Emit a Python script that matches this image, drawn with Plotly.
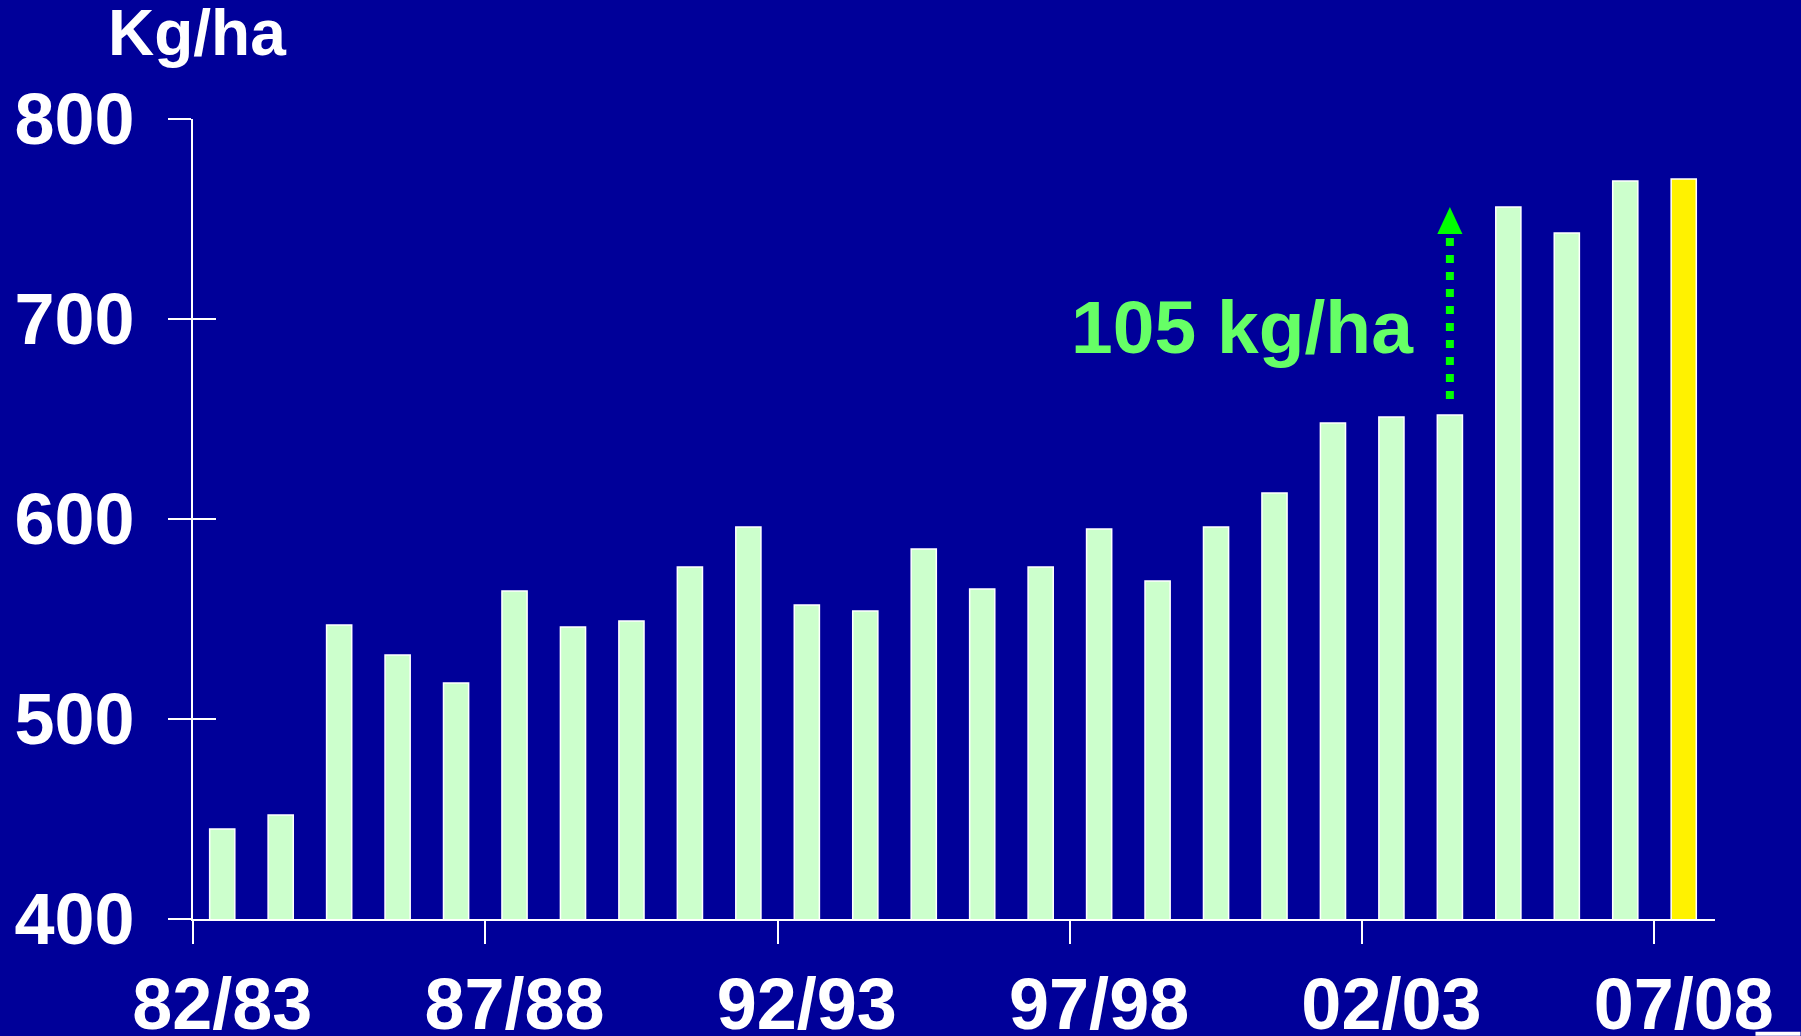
import plotly.graph_objects as go

# ---- data ----
seasons = ["82/83", "83/84", "84/85", "85/86", "86/87", "87/88", "88/89", "89/90",
           "90/91", "91/92", "92/93", "93/94", "94/95", "95/96", "96/97", "97/98",
           "98/99", "99/00", "00/01", "01/02", "02/03", "03/04", "04/05", "05/06",
           "06/07", "07/08"]
yields = [445, 452, 547, 532, 518, 564, 546, 549, 576, 596, 557, 554, 585, 565,
          576, 595, 569, 596, 613, 648, 651, 652, 756, 743, 769, 770]
label_seasons = ["82/83", "87/88", "92/93", "97/98", "02/03", "07/08"]
y_ticks = [400, 500, 600, 700, 800]
gain_text = "105 kg/ha"
unit_text = "Kg/ha"

# ---- styling ----
BG = "#000099"
BAR = "#CCFFCC"
HIGHLIGHT = "#FFF200"
WHITE = "#FFFFFF"
ARROW = "#00FF00"
TXT_GREEN = "#66FF66"
FONT = "Liberation Sans, Arial, sans-serif"

W, H = 1801, 1036
L, R, T, B = 192.5, 85.5, 119.3, 116.7
PW, PH = W - L - R, H - T - B

idx = list(range(len(seasons)))
label_idx = [seasons.index(s) for s in label_seasons]
boundaries = [i - 0.5 for i in label_idx]
x_range = [-0.5, 25.535]

colors = [BAR] * (len(yields) - 1) + [HIGHLIGHT]

fig = go.Figure()
fig.add_trace(go.Bar(
    x=idx, y=yields, width=0.43,
    marker=dict(color=colors, line=dict(color=WHITE, width=1.5)),
    hoverinfo="skip", showlegend=False,
))
# invisible trace to activate xaxis2 / yaxis2
fig.add_trace(go.Scatter(x=[0], y=[400], xaxis="x2", yaxis="y2",
                         mode="markers", marker=dict(opacity=0),
                         hoverinfo="skip", showlegend=False))

tickfont = dict(family=FONT, size=72, color=WHITE, weight="bold")

fig.update_layout(
    width=W, height=H, autosize=False,
    paper_bgcolor=BG, plot_bgcolor=BG,
    margin=dict(l=L, r=R, t=T, b=B, pad=0),
    xaxis=dict(range=x_range, tickmode="array", tickvals=label_idx,
               ticktext=label_seasons, ticks="", showgrid=False, zeroline=False,
               showline=True, linecolor=WHITE, linewidth=2,
               tickfont=tickfont, ticklabelstandoff=22, automargin=False),
    xaxis2=dict(range=x_range, overlaying="x", anchor="y", side="bottom",
                tickmode="array", tickvals=boundaries, ticks="outside",
                ticklen=24, tickwidth=2, tickcolor=WHITE, showticklabels=False,
                showgrid=False, zeroline=False, showline=False, automargin=False),
    yaxis=dict(range=[400, 800], tickmode="array", tickvals=y_ticks,
               ticks="outside", ticklen=23, tickwidth=2, tickcolor=WHITE,
               showline=True, linecolor=WHITE, linewidth=2,
               showgrid=False, zeroline=False, tickfont=tickfont,
               ticklabelstandoff=19, automargin=False),
    yaxis2=dict(range=[400, 800], overlaying="y", anchor="x", side="left",
                tickmode="array", tickvals=y_ticks, ticks="inside", ticklen=23,
                tickwidth=2, tickcolor=WHITE, showticklabels=False,
                showgrid=False, zeroline=False, showline=False, automargin=False),
)

def px_to_paper(px, py):
    return (px - L) / PW, (H - B - py) / PH

# unit label above the y axis
ux, uy = px_to_paper(196.5, 33)
fig.add_annotation(text=unit_text, xref="paper", yref="paper", x=ux, y=uy,
                   xanchor="center", yanchor="middle", showarrow=False,
                   font=dict(family=FONT, size=64, color=WHITE, weight="bold"))

# gain arrow: from bar 03/04 top up to level of 04/05
i_from = seasons.index("03/04")
i_to = seasons.index("04/05")
y_start = yields[i_from] + 8
y_tip = yields[i_to]
y_base = y_tip - 13.5
ax = i_from
fig.add_shape(type="line", x0=ax, x1=ax, y0=y_start, y1=y_base,
              line=dict(color=ARROW, width=8, dash="8px,9px"), layer="above")
hw = 0.215
fig.add_shape(type="path",
              path=f"M {ax-hw},{y_base} L {ax+hw},{y_base} L {ax},{y_tip} Z",
              fillcolor=ARROW, line=dict(width=0), layer="above")

fig.add_annotation(text=gain_text, x=20.42, y=696, xanchor="right",
                   yanchor="middle", showarrow=False,
                   font=dict(family=FONT, size=75, color=TXT_GREEN, weight="bold"))

# small white mark at the bottom-right corner of the slide
x0p, y0p = px_to_paper(1756, 1036)
x1p, y1p = px_to_paper(1801, 1032)
fig.add_shape(type="rect", xref="paper", yref="paper", x0=x0p, x1=x1p,
              y0=y0p, y1=y1p, fillcolor=WHITE, line=dict(width=0), layer="above")

fig.write_html("out.html")
